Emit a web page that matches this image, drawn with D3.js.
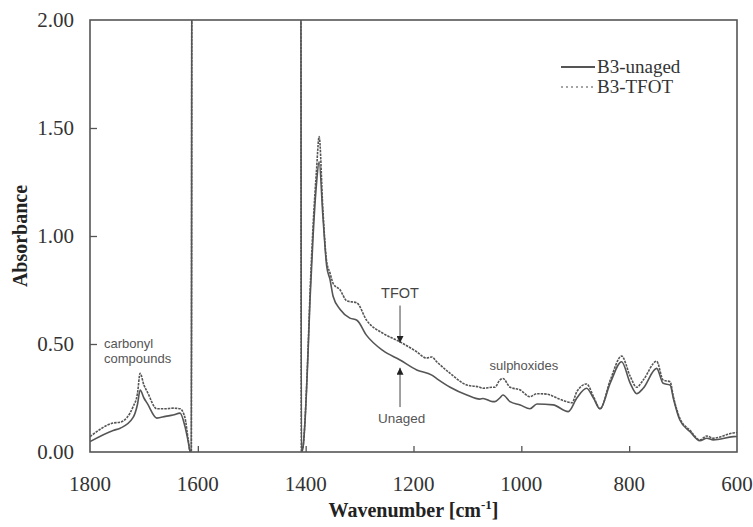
<!DOCTYPE html>
<html>
<head>
<meta charset="utf-8">
<script src="https://cdn.jsdelivr.net/npm/d3@7"></script>
<style>
  html, body { margin: 0; padding: 0; background: #fff; }
  svg { display: block; }
  .num { font-family: "Liberation Serif", "Times New Roman", serif; font-size: 21px; fill: #333; }
</style>
</head>
<body>
<svg id="chart" width="753" height="527"></svg>
<script>
// FTIR spectra: [wavenumber cm-1, absorbance]
// The instrument window 1612-1408 cm-1 is saturated and runs off the top of the scale.
const unaged = [
  [1800, 0.048], [1757, 0.10], [1744, 0.11], [1720, 0.16], [1712, 0.22], [1707, 0.287],
  [1700, 0.25], [1694, 0.226], [1676, 0.157], [1660, 0.165], [1646, 0.171], [1633, 0.18],
  [1624, 0.12], [1618, 0.05], [1614, 0.0], [1612, 0.0], [1611, 2.6],
  [1409, 2.6], [1408, 0.0], [1405, 0.02], [1401, 0.15], [1396, 0.43], [1392, 0.70],
  [1386, 1.01], [1380, 1.24], [1375, 1.344], [1368, 1.09], [1361, 0.86], [1355, 0.80],
  [1349, 0.72], [1336, 0.66], [1318, 0.62], [1305, 0.61], [1287, 0.54], [1257, 0.47],
  [1225, 0.426], [1194, 0.38], [1166, 0.356], [1157, 0.34], [1132, 0.30], [1101, 0.264],
  [1077, 0.245], [1071, 0.248], [1053, 0.233], [1049, 0.233], [1040, 0.25], [1034, 0.264],
  [1021, 0.233], [1002, 0.218], [984, 0.20], [971, 0.222], [941, 0.218], [913, 0.187],
  [897, 0.25], [879, 0.295], [866, 0.248], [854, 0.20], [835, 0.32], [814, 0.418],
  [798, 0.318], [786, 0.27], [774, 0.295], [749, 0.387], [737, 0.318], [724, 0.31],
  [718, 0.248], [706, 0.148], [687, 0.094], [669, 0.052], [656, 0.064], [644, 0.056],
  [607, 0.071], [600, 0.072]
];

const tfot = [
  [1800, 0.071], [1757, 0.134], [1744, 0.138], [1720, 0.21], [1712, 0.27], [1707, 0.364],
  [1700, 0.31], [1694, 0.28], [1676, 0.20], [1660, 0.20], [1646, 0.203], [1633, 0.20],
  [1624, 0.16], [1618, 0.06], [1614, 0.0], [1612, 0.0], [1611, 2.6],
  [1409, 2.6], [1408, 0.0], [1405, 0.02], [1401, 0.16], [1396, 0.45], [1392, 0.73],
  [1386, 1.06], [1380, 1.30], [1375, 1.46], [1368, 1.12], [1361, 0.88], [1355, 0.83],
  [1349, 0.78], [1336, 0.75], [1324, 0.70], [1305, 0.69], [1287, 0.61], [1257, 0.55],
  [1225, 0.51], [1194, 0.464], [1176, 0.435], [1166, 0.44], [1157, 0.418], [1132, 0.364],
  [1101, 0.31], [1077, 0.30], [1071, 0.295], [1053, 0.30], [1049, 0.30], [1040, 0.333],
  [1034, 0.34], [1021, 0.30], [1002, 0.287], [984, 0.256], [971, 0.27], [953, 0.268],
  [934, 0.25], [916, 0.233], [906, 0.228], [897, 0.28], [879, 0.315], [866, 0.256],
  [854, 0.20], [835, 0.333], [814, 0.444], [798, 0.35], [786, 0.30], [774, 0.333],
  [749, 0.42], [737, 0.333], [724, 0.325], [718, 0.256], [706, 0.156], [687, 0.10],
  [669, 0.056], [656, 0.074], [644, 0.064], [607, 0.088], [600, 0.09]
];

const xTicks = [1800, 1600, 1400, 1200, 1000, 800, 600];
const yTicks = [0.0, 0.5, 1.0, 1.5, 2.0];
const seriesNames = ["B3-unaged", "B3-TFOT"];

const svg = d3.select("#chart");
const m = { left: 90, right: 16, top: 20, bottom: 75 };
const W = 753, H = 527;
const x = d3.scaleLinear().domain([1800, 600]).range([m.left, W - m.right]);
const y = d3.scaleLinear().domain([0, 2]).range([H - m.bottom, m.top]);

const ink = "#555";
const serif = "'Liberation Serif', 'Times New Roman', serif";
const sans = "'Liberation Sans', Arial, sans-serif";

// clip so the saturated window stays inside the frame
svg.append("defs").append("clipPath").attr("id", "plotClip")
  .append("rect")
  .attr("x", x(1800)).attr("y", y(2))
  .attr("width", x(600) - x(1800)).attr("height", y(0) - y(2));

// axes: inward tick marks; labels are set in serif below
const xAxis = svg.append("g")
  .attr("transform", `translate(0,${y(0)})`)
  .call(d3.axisBottom(x).tickValues(xTicks).tickSize(-6).tickFormat(""));
const yAxis = svg.append("g")
  .attr("transform", `translate(${x(1800)},0)`)
  .call(d3.axisLeft(y).tickValues(yTicks).tickSize(-7).tickFormat(""));

[xAxis, yAxis].forEach(g => {
  g.select(".domain").remove();
  g.selectAll(".tick line").attr("stroke", ink).attr("stroke-width", 1.3);
});
xAxis.selectAll(".tick line").filter(d => d === 1800 || d === 600).remove();
yAxis.selectAll(".tick line").filter(d => d === 0 || d === 2).remove();

svg.append("g").selectAll("text").data(xTicks).join("text")
  .attr("class", "num")
  .attr("x", d => x(d)).attr("y", y(0) + 39)
  .attr("text-anchor", "middle")
  .text(d3.format("d"));
svg.append("g").selectAll("text").data(yTicks).join("text")
  .attr("class", "num")
  .attr("x", x(1800) - 16).attr("y", d => y(d) + 7)
  .attr("text-anchor", "end")
  .text(d3.format(".2f"));

// spectra
const line = d3.line().x(d => x(d[0])).y(d => y(d[1])).curve(d3.curveMonotoneX);
const plot = svg.append("g").attr("clip-path", "url(#plotClip)");
plot.append("path").datum(unaged)
  .attr("d", line).attr("fill", "none")
  .attr("stroke", ink).attr("stroke-width", 1.6).attr("stroke-linejoin", "round");
plot.append("path").datum(tfot)
  .attr("d", line).attr("fill", "none")
  .attr("stroke", ink).attr("stroke-width", 1.6).attr("stroke-dasharray", "2.5,1")
  .attr("stroke-linejoin", "round");

// frame
svg.append("rect")
  .attr("x", x(1800)).attr("y", y(2))
  .attr("width", x(600) - x(1800)).attr("height", y(0) - y(2))
  .attr("fill", "none").attr("stroke", ink).attr("stroke-width", 1.6);

// axis titles
svg.append("text")
  .attr("transform", `translate(22,${(y(0) + y(2)) / 2}) rotate(-90)`)
  .attr("text-anchor", "middle").attr("dominant-baseline", "middle")
  .style("font-family", serif).attr("font-weight", "bold").attr("font-size", 20).attr("fill", "#222")
  .text("Absorbance");
const xt = svg.append("text")
  .attr("x", (x(1800) + x(600)) / 2).attr("y", 517)
  .attr("text-anchor", "middle")
  .style("font-family", serif).attr("font-weight", "bold").attr("font-size", 20).attr("fill", "#222");
xt.append("tspan").text("Wavenumber [cm");
xt.append("tspan").attr("font-size", 13).attr("dy", -8).text("-1");
xt.append("tspan").attr("dy", 8).text("]");

// legend
const leg = svg.append("g");
seriesNames.forEach((name, i) => {
  const ly = 67 + i * 20;
  leg.append("line")
    .attr("x1", 561).attr("x2", 595).attr("y1", ly).attr("y2", ly)
    .attr("stroke", i === 0 ? ink : "#888").attr("stroke-width", i === 0 ? 1.8 : 1.4)
    .attr("stroke-dasharray", i === 0 ? null : "2,3");
  leg.append("text")
    .attr("x", 597).attr("y", ly + 6)
    .style("font-family", serif).attr("font-size", 19).attr("fill", "#333")
    .text(name);
});

// annotations
const note = (txt, wx, v) => svg.append("text")
  .attr("x", x(wx)).attr("y", y(v))
  .style("font-family", sans).attr("font-size", 13).attr("fill", "#555")
  .text(txt);
note("carbonyl", 1774, 0.48);
note("compounds", 1774, 0.412);
note("sulphoxides", 1059, 0.38);

svg.append("defs").append("marker")
  .attr("id", "head").attr("viewBox", "0 0 10 10")
  .attr("refX", 10).attr("refY", 5)
  .attr("markerWidth", 7).attr("markerHeight", 7).attr("orient", "auto")
  .append("path").attr("d", "M0,0 L10,5 L0,10 Z").attr("fill", "#222");

svg.append("text")
  .attr("x", x(1225)).attr("y", y(0.713)).attr("text-anchor", "middle")
  .style("font-family", sans).attr("font-size", 14.5).attr("fill", "#444").text("TFOT");
svg.append("line")
  .attr("x1", x(1225)).attr("x2", x(1225)).attr("y1", y(0.678)).attr("y2", y(0.505))
  .attr("stroke", "#444").attr("stroke-width", 1).attr("marker-end", "url(#head)");
svg.append("text")
  .attr("x", x(1222)).attr("y", y(0.135)).attr("text-anchor", "middle")
  .style("font-family", sans).attr("font-size", 13.5).attr("fill", "#555").text("Unaged");
svg.append("line")
  .attr("x1", x(1225)).attr("x2", x(1225)).attr("y1", y(0.208)).attr("y2", y(0.39))
  .attr("stroke", "#444").attr("stroke-width", 1).attr("marker-end", "url(#head)");
</script>
</body>
</html>
